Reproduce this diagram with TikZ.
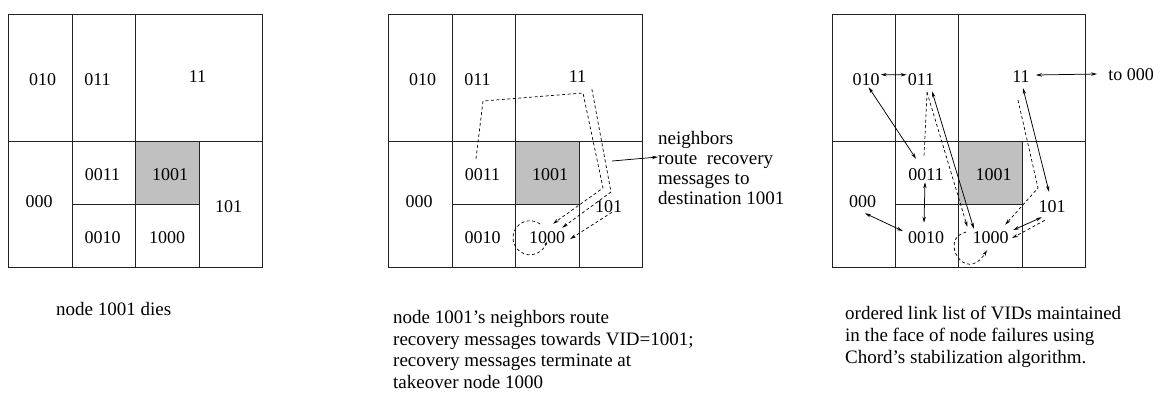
\documentclass[tikz,border=0pt]{standalone}
\usepackage{fontspec}
\setmainfont{Liberation Serif}
\usetikzlibrary{arrows.meta,calc}
\definecolor{deadcell}{RGB}{192,192,192}
\definecolor{gridink}{RGB}{35,35,35}

\tikzset{
  gridline/.style={draw=gridink, line width=1pt},
  cell/.style={font=\fontsize{18}{21}\selectfont, inner sep=1pt},
  capt/.style={font=\fontsize{19}{21.8}\selectfont, align=left, inner sep=0pt},
  note/.style={font=\fontsize{19}{20}\selectfont, align=left, inner sep=0pt},
  tip/.style={-{Stealth[length=6pt,width=3.4pt]}},
  route/.style={line width=0.7pt, dash pattern=on 3pt off 2.5pt},
  routearrow/.style={route, tip},
  link/.style={line width=0.75pt, {Stealth[length=6pt,width=3.4pt]}-{Stealth[length=6pt,width=3.4pt]}},
  pointer/.style={line width=0.75pt, tip},
}

% One VID grid: #1 = name prefix, #2 = horizontal offset
\newcommand\vidgrid[2]{%
  \begin{scope}[xshift=#2pt]
    \fill[deadcell] (126.5,141) rectangle (190.5,204);
    \draw[gridline] (0,14) rectangle (253.5,267);
    \draw[gridline] (0,141) -- (253.5,141);
    \draw[gridline] (63.5,14) -- (63.5,267);
    \draw[gridline] (126.5,14) -- (126.5,267);
    \draw[gridline] (190.5,141) -- (190.5,267);
    \draw[gridline] (63.5,204) -- (190.5,204);
    \node[cell] (#1-010)  at (34,80)    {010};
    \node[cell] (#1-011)  at (89,80)    {011};
    \node[cell] (#1-11)   at (189,77)   {11};
    \node[cell] (#1-0011) at (94,175)   {0011};
    \node[cell] (#1-1001) at (161.5,175){1001};
    \node[cell] (#1-000)  at (30.5,202) {000};
    \node[cell] (#1-101)  at (220,207)  {101};
    \node[cell] (#1-0010) at (94,238)   {0010};
    \node[cell] (#1-1000) at (158.5,238){1000};
  \end{scope}}

\begin{document}
\begin{tikzpicture}[x=1pt,y=1pt,yscale=-1]
\useasboundingbox (0,0) rectangle (1160,392);

% ---------- left: node 1001 dies ----------
\vidgrid{a}{8.5}
\node[capt, anchor=base west] (a-cap) at (56,315) {node 1001 dies};

% ---------- middle: recovery messages ----------
\vidgrid{b}{388.5}
\coordinate (b-w1) at (483,101);
\coordinate (b-w2) at (583,93);
\coordinate (b-w3) at (603,188);
\coordinate (b-w4) at (611,192);
\draw[routearrow] ($(b-0011.north)+(-6.5,-9)$) -- (b-w1) -- (b-w2) -- (b-w3)
  -- ($(b-1000.north)+(6,-7)$);
\draw[routearrow] ($(b-11.south east)+(4.5,5)$) -- (b-w4)
  -- ($(b-1000.north east)+(-4,-3)$);
\draw[routearrow] ($(b-101.south)+(3.5,-2)$) -- ($(b-1000.east)+(4,1)$);
\draw[route, -{Stealth[length=3pt,width=2.5pt]}] ($(b-1000.center)+(-7,-14)$)
  arc[start angle=-54, end angle=-346, radius=17];
\node[note, anchor=north west] (b-note) at (658,131) {neighbors\\route~~recovery\\messages to\\destination 1001};
\coordinate (b-tail) at (612,161);
\coordinate (b-head) at (658,157);
\draw[pointer] (b-tail) -- (b-head);
\node[capt, anchor=north west] (b-cap) at (393,310)
  {node 1001's neighbors route\\recovery messages towards VID=1001;\\recovery messages terminate at\\takeover node 1000};

% ---------- right: ordered link list ----------
\vidgrid{c}{832}
\node[cell] (c-to) at (1131,75) {to 000};
\draw[link] (c-010.20) -- (c-011.160);
\draw[link] (c-010.-70) -- ($(c-0011.north)+(-10,-9)$);
\draw[route] ($(c-011.south)+(6,5)$) -- ($(c-0011.north)+(-2,-11)$);
\draw[routearrow] ($(c-011.south)+(6,5)$) -- ($(c-1000.north west)+(-4,-4)$);
\draw[link] ($(c-011.south)+(11,4)$) -- ($(c-1000.north west)+(2.5,-2)$);
\draw[routearrow] ($(c-1000.west)+(-5,-6)$) .. controls (938,238) and (965,285) .. ($(c-1000.south)+(-3.5,5)$);
\draw[link] ($(c-0011.south)+(-1,0)$) -- ($(c-0010.north)+(-2,-8)$);
\draw[link] ($(c-000.south)+(2.5,4)$) -- ($(c-0010.west)+(-4,-7)$);
\draw[link] ($(c-11.east)+(5,-2)$) -- ($(c-to.west)+(-10,-1)$);
\draw[link] ($(c-11.south)+(2,4)$) -- ($(c-101.north)+(-3,-8)$);
\coordinate (c-w1) at (1038,188);
\draw[routearrow] ($(c-11.south)+(-3,16)$) -- (c-w1) -- ($(c-1000.north east)+(-4.5,-6)$);
\draw[link] ($(c-101.south west)+(4.5,3)$) -- ($(c-1000.east)+(3.5,-8)$);
\draw[routearrow] ($(c-101.south west)+(7.5,6)$) -- ($(c-1000.east)+(2.5,0)$);
\node[capt, anchor=north west] (c-cap) at (845,306)
  {ordered link list of VIDs maintained\\in the face of node failures using\\Chord's stabilization algorithm.};
\end{tikzpicture}
\end{document}
